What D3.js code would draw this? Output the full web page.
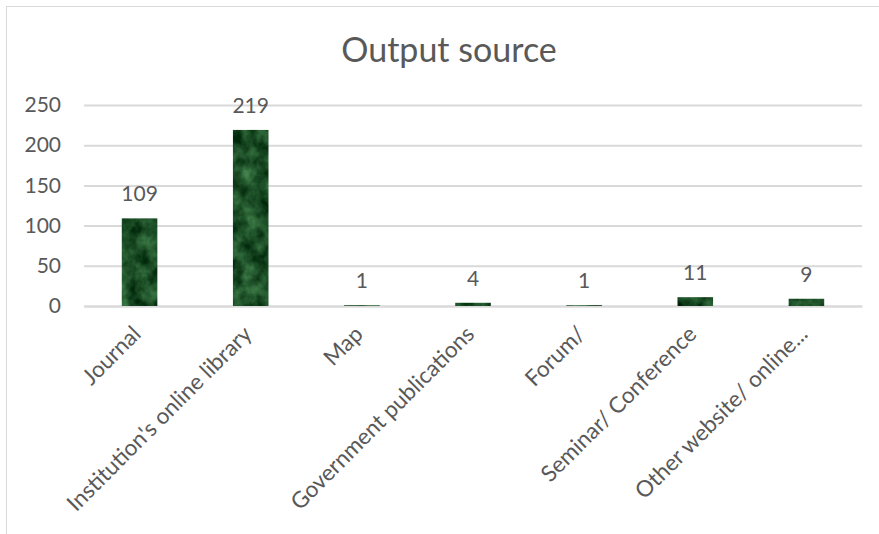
<!DOCTYPE html>
<html>
<head>
<meta charset="utf-8">
<script src="https://cdn.jsdelivr.net/npm/d3@7"></script>
<style>
  body { margin: 0; background: #fff; }
  text { font-family: Lato, "Open Sans", sans-serif; fill: #595959; }
</style>
</head>
<body>
<div class="main"></div>
<script>
var categories = ["Journal", "Institution's online library", "Map", "Government publications", "Forum/", "Seminar/ Conference", "Other website/ online..."];
var counts = [109, 219, 1, 4, 1, 11, 9];
var yTicks = [0, 50, 100, 150, 200, 250];

var width = 879;
var height = 534;
var plotLeft = 84, plotRight = 862;
var plotTop = 105, plotBottom = 306;

var svgContainer = d3.select(".main")
        .append("svg")
            .attr("width", width)
            .attr("height", height);

// marble look for the bars
var filter = svgContainer.append("defs")
    .append("filter")
        .attr("id", "marble")
        .attr("x", 0).attr("y", 0).attr("width", 1).attr("height", 1)
        .attr("color-interpolation-filters", "sRGB");
filter.append("feTurbulence")
    .attr("type", "fractalNoise")
    .attr("baseFrequency", "0.07 0.06")
    .attr("numOctaves", 4)
    .attr("seed", 7)
    .attr("result", "noise");
filter.append("feColorMatrix")
    .attr("in", "noise")
    .attr("type", "matrix")
    .attr("values", "0.4 0 0 0 -0.09  0.55 0 0 0 0.03  0.4 0 0 0 -0.05  0 0 0 0 1")
    .attr("result", "col");
filter.append("feComposite")
    .attr("in", "col")
    .attr("in2", "SourceGraphic")
    .attr("operator", "in");

// chart frame
svgContainer.append("rect")
    .attr("x", 6.5).attr("y", 6.5)
    .attr("width", 920).attr("height", 600)
    .style("fill", "none")
    .style("stroke", "#d9d9d9");

svgContainer.append("text")
    .attr("x", 449)
    .attr("y", 62)
    .attr("text-anchor", "middle")
    .style("font-size", "34px")
    .text("Output source");

var xScale = d3.scaleBand()
    .domain(categories)
    .range([plotLeft, plotRight])
    .paddingInner(0.68)
    .paddingOuter(0.34);

var yScale = d3.scaleLinear()
    .domain([0, 250])
    .range([plotBottom, plotTop]);

var yAxis = d3.axisLeft(yScale)
    .tickValues(yTicks)
    .tickSize(-(plotRight - plotLeft))
    .tickPadding(23);

var yAxisGroup = svgContainer.append("g")
    .attr("transform", "translate(" + plotLeft + ", 0)")
    .call(yAxis);
yAxisGroup.select(".domain").remove();
yAxisGroup.selectAll("line")
    .style("stroke", "#d9d9d9")
    .style("stroke-width", 2);
yAxisGroup.selectAll("text")
    .style("font-size", "21px")
    .style("font-family", "Lato, sans-serif")
    .attr("fill", "#595959");

var xAxis = d3.axisBottom(xScale).tickSize(0).tickPadding(0);
var xAxisGroup = svgContainer.append("g")
    .attr("transform", "translate(0, " + plotBottom + ")")
    .call(xAxis);
xAxisGroup.select(".domain")
    .style("stroke", "#d9d9d9")
    .style("stroke-width", 2);
xAxisGroup.selectAll("text")
    .style("font-size", "22.5px")
    .style("font-family", "Lato, sans-serif")
    .attr("fill", "#595959")
    .attr("text-anchor", "end")
    .attr("dy", "0.35em")
    .attr("transform", "translate(-3, 24) rotate(-45)");

svgContainer.selectAll(".bar")
    .data(counts)
    .enter()
    .append("rect")
        .attr("class", "bar")
        .attr("x", (d, i) => xScale(categories[i]))
        .attr("y", d => yScale(d))
        .attr("width", xScale.bandwidth())
        .attr("height", d => plotBottom - yScale(d))
        .style("fill", "#1d5c34")
        .attr("filter", "url(#marble)");

svgContainer.selectAll(".value")
    .data(counts)
    .enter()
    .append("text")
        .attr("class", "value")
        .attr("x", (d, i) => xScale(categories[i]) + xScale.bandwidth() / 2)
        .attr("y", d => yScale(d) - 17)
        .attr("text-anchor", "middle")
        .style("font-size", "21px")
        .text(d => d);
</script>
</body>
</html>
